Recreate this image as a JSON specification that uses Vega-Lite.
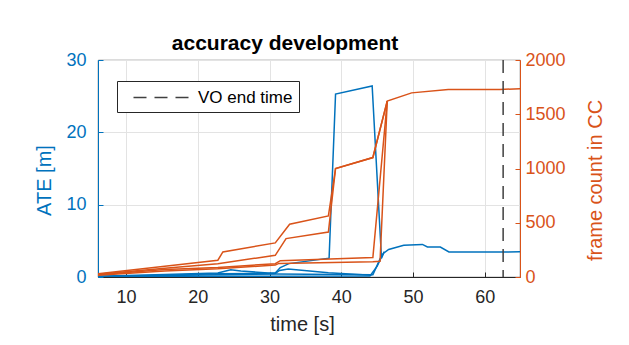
{
  "$schema": "https://vega.github.io/schema/vega-lite/v6.json",
  "width": 422,
  "height": 217,
  "autosize": {"type": "none"},
  "padding": {"left": 98, "top": 60, "right": 109, "bottom": 68},
  "background": "white",
  "config": {
    "font": "Liberation Sans",
    "view": {"stroke": "#262626", "strokeWidth": 0.8},
    "axis": {"labelFont": "Liberation Sans", "titleFont": "Liberation Sans", "labelFontSize": 18, "titleFontSize": 20, "titleFontWeight": "normal", "gridColor": "#e3e3e3", "gridWidth": 1, "tickSize": -5, "domainWidth": 1}
  },
  "title": {"text": "accuracy development", "fontSize": 21, "fontWeight": "bold", "font": "Liberation Sans", "color": "#000000", "dx": -24, "offset": -3},
  "datasets": {
    "ate": [
      {"run": "b1", "t": 6.1, "v": 0.1}, {"run": "b1", "t": 15.4, "v": 0.35}, {"run": "b1", "t": 22.8, "v": 0.55}, {"run": "b1", "t": 24.6, "v": 1.0}, {"run": "b1", "t": 26.0, "v": 0.83}, {"run": "b1", "t": 29.8, "v": 0.55}, {"run": "b1", "t": 30.8, "v": 0.55}, {"run": "b1", "t": 31.5, "v": 1.3}, {"run": "b1", "t": 32.7, "v": 1.85}, {"run": "b1", "t": 38.3, "v": 2.6}, {"run": "b1", "t": 39.2, "v": 25.3}, {"run": "b1", "t": 44.3, "v": 26.4}, {"run": "b1", "t": 45.6, "v": 2.6}, {"run": "b1", "t": 45.9, "v": 3.3}, {"run": "b1", "t": 46.6, "v": 3.8}, {"run": "b1", "t": 48.7, "v": 4.4}, {"run": "b1", "t": 51.3, "v": 4.5}, {"run": "b1", "t": 52.0, "v": 4.15}, {"run": "b1", "t": 53.8, "v": 4.15}, {"run": "b1", "t": 55.0, "v": 3.46}, {"run": "b1", "t": 62.6, "v": 3.46}, {"run": "b1", "t": 64.9, "v": 3.48},
      {"run": "b2", "t": 6.1, "v": 0.05}, {"run": "b2", "t": 15.4, "v": 0.2}, {"run": "b2", "t": 22.8, "v": 0.3}, {"run": "b2", "t": 30.8, "v": 0.4}, {"run": "b2", "t": 44.4, "v": 0.3}, {"run": "b2", "t": 45.4, "v": 2.5}, {"run": "b2", "t": 46.0, "v": 3.5},
      {"run": "b3", "t": 6.1, "v": 0.03}, {"run": "b3", "t": 22.8, "v": 0.1}, {"run": "b3", "t": 44.0, "v": 0.15}, {"run": "b3", "t": 45.0, "v": 1.5}, {"run": "b3", "t": 45.8, "v": 3.2},
      {"run": "b4", "t": 6.1, "v": 0.08}, {"run": "b4", "t": 15.4, "v": 0.25}, {"run": "b4", "t": 22.8, "v": 0.45}, {"run": "b4", "t": 30.8, "v": 0.5}, {"run": "b4", "t": 31.4, "v": 0.9}, {"run": "b4", "t": 32.6, "v": 1.1}, {"run": "b4", "t": 38.2, "v": 0.6}, {"run": "b4", "t": 44.2, "v": 0.25}
    ],
    "fc": [
      {"run": "o1", "t": 6.1, "v": 31}, {"run": "o1", "t": 15.4, "v": 98}, {"run": "o1", "t": 22.8, "v": 155}, {"run": "o1", "t": 23.5, "v": 231}, {"run": "o1", "t": 30.8, "v": 314}, {"run": "o1", "t": 32.8, "v": 486}, {"run": "o1", "t": 38.2, "v": 563}, {"run": "o1", "t": 39.2, "v": 1000}, {"run": "o1", "t": 44.4, "v": 1101}, {"run": "o1", "t": 46.4, "v": 1621}, {"run": "o1", "t": 49.8, "v": 1697}, {"run": "o1", "t": 54.9, "v": 1729}, {"run": "o1", "t": 62.1, "v": 1729}, {"run": "o1", "t": 64.9, "v": 1735},
      {"run": "o2", "t": 6.1, "v": 25}, {"run": "o2", "t": 15.4, "v": 80}, {"run": "o2", "t": 22.8, "v": 123}, {"run": "o2", "t": 30.8, "v": 200}, {"run": "o2", "t": 32.3, "v": 354}, {"run": "o2", "t": 38.2, "v": 415}, {"run": "o2", "t": 39.2, "v": 1000}, {"run": "o2", "t": 44.4, "v": 1101}, {"run": "o2", "t": 46.4, "v": 1621},
      {"run": "o3", "t": 6.1, "v": 20}, {"run": "o3", "t": 15.4, "v": 70}, {"run": "o3", "t": 22.8, "v": 87}, {"run": "o3", "t": 30.8, "v": 123}, {"run": "o3", "t": 31.5, "v": 150}, {"run": "o3", "t": 44.4, "v": 180}, {"run": "o3", "t": 46.4, "v": 1621},
      {"run": "o4", "t": 6.1, "v": 15}, {"run": "o4", "t": 15.4, "v": 55}, {"run": "o4", "t": 22.8, "v": 75}, {"run": "o4", "t": 30.8, "v": 110}, {"run": "o4", "t": 31.3, "v": 125}, {"run": "o4", "t": 44.4, "v": 140}, {"run": "o4", "t": 45.4, "v": 145}, {"run": "o4", "t": 46.4, "v": 1621}
    ],
    "vo": [{"t": 62.55, "name": "VO end time"}]
  },
  "layer": [
    {
      "data": {"name": "ate"},
      "mark": {"type": "line", "color": "#0072BD", "strokeWidth": 1.5, "clip": true},
      "encoding": {
        "x": {"field": "t", "type": "quantitative", "scale": {"domain": [6.1, 64.9], "nice": false, "zero": false},
              "axis": {"title": "time [s]", "values": [10, 20, 30, 40, 50, 60], "labelColor": "#262626", "titleColor": "#262626", "domainColor": "#262626", "tickColor": "#262626", "grid": true, "labelPadding": 16, "titlePadding": 8, "titleX": 204}},
        "y": {"field": "v", "type": "quantitative", "scale": {"domain": [0, 30], "nice": false},
              "axis": {"title": "ATE [m]", "orient": "left", "values": [0, 10, 20, 30], "labelColor": "#0072BD", "titleColor": "#0072BD", "domainColor": "#0072BD", "tickColor": "#0072BD", "grid": true, "labelPadding": 17, "titlePadding": 11, "titleY": 120}},
        "detail": {"field": "run"}
      }
    },
    {
      "data": {"name": "fc"},
      "mark": {"type": "line", "color": "#D95319", "strokeWidth": 1.5, "clip": true},
      "encoding": {
        "x": {"field": "t", "type": "quantitative"},
        "y": {"field": "v", "type": "quantitative", "scale": {"domain": [0, 2000], "nice": false},
              "axis": {"title": "frame count in CC", "orient": "right", "format": "d", "values": [0, 500, 1000, 1500, 2000], "labelColor": "#D95319", "titleColor": "#D95319", "domainColor": "#D95319", "tickColor": "#D95319", "grid": false, "labelPadding": 10, "titlePadding": 40, "titleAngle": 270, "titleY": 120}},
        "detail": {"field": "run"}
      }
    },
    {
      "data": {"name": "vo"},
      "mark": {"type": "rule", "color": "#404040", "strokeWidth": 1.5},
      "encoding": {
        "x": {"field": "t", "type": "quantitative"},
        "strokeDash": {"field": "name", "type": "nominal", "scale": {"range": [[13, 8]]},
          "legend": {"title": null, "orient": "none", "legendX": 19, "legendY": 21, "symbolType": "M0,0H6", "symbolSize": 361, "symbolStrokeColor": "#404040", "symbolStrokeWidth": 1.5, "labelFontSize": 17, "labelFont": "Liberation Sans", "labelColor": "#000000", "strokeColor": "#262626", "fillColor": "white", "padding": 6, "labelOffset": 54}}
      }
    }
  ],
  "resolve": {"scale": {"y": "independent"}}
}
